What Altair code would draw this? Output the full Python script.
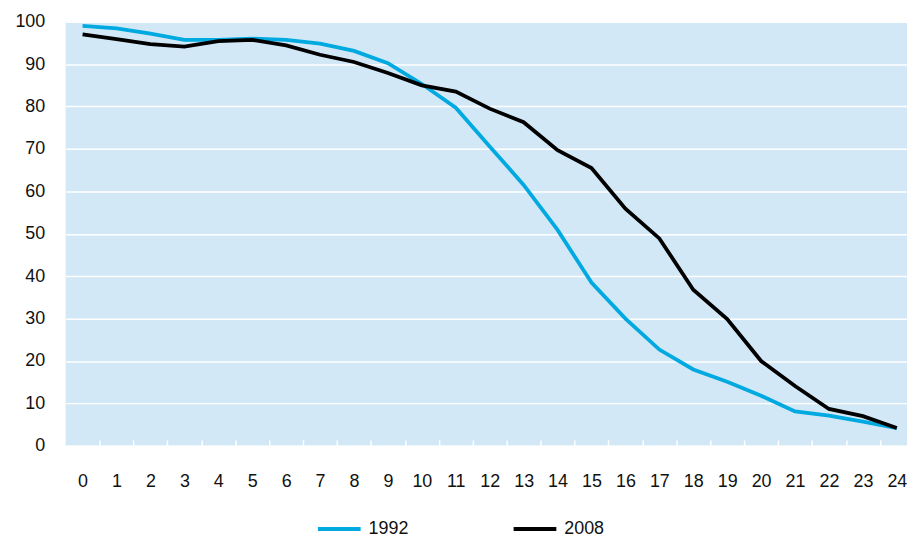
import altair as alt
import pandas as pd

ages = list(range(25))
v1992 = [99.0, 98.4, 97.2, 95.7, 95.7, 96.0, 95.7, 94.8, 93.1, 90.2, 85.3, 79.7, 70.6,
         61.5, 50.9, 38.5, 30.0, 22.7, 18.0, 15.1, 11.8, 8.1, 7.1, 5.7, 4.2]
v2008 = [97.0, 95.9, 94.7, 94.1, 95.4, 95.7, 94.4, 92.2, 90.5, 87.9, 85.0, 83.5, 79.5,
         76.3, 69.7, 65.5, 55.9, 48.9, 36.8, 29.9, 20.0, 14.1, 8.7, 7.0, 4.2]
years = ["1992", "2008"]
x_labels = ages
x_ticks = [a + 0.5 for a in ages[:-1]]
y_ticks = list(range(0, 101, 10))

rows = []
for yr, vals in zip(years, [v1992, v2008]):
    for a, v in zip(ages, vals):
        rows.append({"year": yr, "age": a, "value": v})
df = pd.DataFrame(rows)

FONT = "Liberation Sans"
BLUE = "#00A9E0"
BG = "#D2E8F6"

xscale = alt.Scale(domain=[-0.5, 24.3], nice=False, zero=False)
yscale = alt.Scale(domain=[0, 100], nice=False)

yaxis = alt.Axis(values=y_ticks, grid=True, gridColor="white", gridWidth=1.5,
                 domain=False, ticks=False, tickSize=0, labelPadding=21,
                 labelFontSize=18, labelFont=FONT, labelColor="#111111", title=None)

lines = alt.Chart(df).mark_line(strokeWidth=3.8).encode(
    x=alt.X("age:Q", scale=xscale,
            axis=alt.Axis(values=x_labels, orient="bottom", grid=False, domain=False,
                          ticks=False, tickSize=0, labelPadding=27, labelFontSize=18,
                          labelFont=FONT, labelColor="#111111", title=None,
                          labelFlush=False)),
    y=alt.Y("value:Q", scale=yscale, axis=yaxis),
    color=alt.Color("year:N", scale=alt.Scale(domain=years, range=[BLUE, "black"]),
                    legend=alt.Legend(title=None, orient="none", legendX=252, legendY=487,
                                      direction="horizontal", symbolType="stroke",
                                      symbolSize=1849, symbolStrokeWidth=4,
                                      labelFontSize=18, labelFont=FONT,
                                      labelColor="#111111", labelOffset=6,
                                      columnPadding=97)),
)

tickmarks = alt.Chart(df).mark_point(opacity=0).encode(
    x=alt.X("age:Q", scale=xscale,
            axis=alt.Axis(values=x_ticks, orient="bottom", grid=False, domain=False,
                          ticks=True, tickSize=6, tickColor="white", tickWidth=1.5,
                          labels=False, offset=-6, title=None)),
    y=alt.Y("value:Q", scale=yscale, axis=yaxis),
)

chart = alt.layer(lines, tickmarks).resolve_axis(x="independent").properties(
    width=847, height=427, autosize="none", background="white",
    padding={"left": 58, "top": 12, "right": 0, "bottom": 90},
).configure_view(fill=BG, strokeWidth=0)

chart.save("out.html", embed_options={"renderer": "svg", "actions": False})
